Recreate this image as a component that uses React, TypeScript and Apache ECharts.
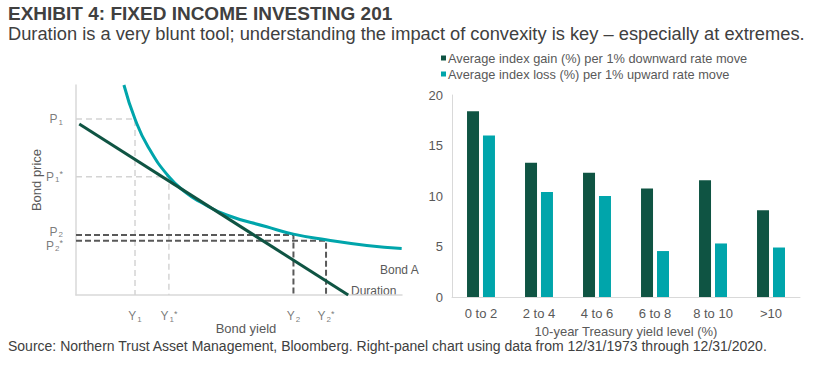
import React, { useEffect, useRef } from "react";
import * as echarts from "echarts";

const FONT = "'Liberation Sans', Arial, sans-serif";

const titleText = "EXHIBIT 4: FIXED INCOME INVESTING 201";
const subtitleText = "Duration is a very blunt tool; understanding the impact of convexity is key \u2013 especially at extremes.";
const sourceText = "Source: Northern Trust Asset Management, Bloomberg. Right-panel chart using data from 12/31/1973 through 12/31/2020.";

// Right panel
const categories = ["0 to 2", "2 to 4", "4 to 6", "6 to 8", "8 to 10", ">10"];
const gainValues = [18.4, 13.3, 12.3, 10.75, 11.55, 8.6];
const lossValues = [16.0, 10.4, 10.0, 4.55, 5.3, 4.9];
const gainName = "Average index gain (%) per 1% downward rate move";
const lossName = "Average index loss (%) per 1% upward rate move";
const yTicks = { min: 0, max: 20, interval: 5 };

// Left panel (schematic, 0-100 units)
const bondA: [number, number][] = [
  [14.7, 100], [18.1, 83.8], [22.1, 70.6], [28.5, 56.3], [34.0, 48.4], [38.0, 44.4],
  [46.2, 38.1], [58.5, 32.5], [66.7, 29.0], [76.7, 26.3], [89.2, 23.6], [99.9, 22.2],
];
const duration: [number, number][] = [[1.0, 81.4], [83.5, 0]];
// guides: [yield x, price y]
const guideNames = ["1", "1*", "2", "2*"];
const guideYield = [18.1, 28.5, 66.7, 76.7];
const guidePrice = [83.8, 56.3, 28.6, 25.8];

const DARK = "#0f5443";
const TEAL = "#00a5ab";
const GRAY = "#595959";

function richLabel(letter: string, sub: string) {
  const num = sub.replace("*", "");
  const star = sub.includes("*") ? "{t|*}" : "";
  return `{m|${letter}}{s|${num}}${star}`;
}

const rich = {
  m: { fontSize: 12, color: GRAY, fontFamily: FONT, lineHeight: 14 },
  s: { fontSize: 8, color: GRAY, fontFamily: FONT, lineHeight: 9, verticalAlign: "bottom", padding: [0, 0, 0, 1] },
  t: { fontSize: 9, color: GRAY, fontFamily: FONT, lineHeight: 9, verticalAlign: "top" },
};

export default function App() {
  const ref = useRef<HTMLDivElement>(null);
  useEffect(() => {
    if (!ref.current) return;
    const chart = echarts.init(ref.current, undefined, { renderer: "svg" });

    const guideSeries = guideNames.map((n, i) => ({
      type: "line",
      xAxisIndex: 0,
      yAxisIndex: 0,
      symbol: "none",
      silent: true,
      z: 1,
      data: [[0, guidePrice[i]], [guideYield[i], guidePrice[i]], [guideYield[i], 0]],
      lineStyle: i < 2
        ? { color: "#d4d4d4", width: 1.5, type: [6, 4] }
        : { color: GRAY, width: 2, type: [6, 3] },
    }));

    const pOffsets = [[0, 0], [0, 0], [0, -3], [0, 5]];

    const option: any = {
      animation: false,
      textStyle: { fontFamily: FONT },
      graphic: [
        { type: "text", style: { x: 8, y: 13.5, text: titleText, fontSize: 19, fontWeight: "bold", fontFamily: FONT, fill: "#404040", verticalAlign: "middle" } },
        { type: "text", style: { x: 8, y: 33, text: subtitleText, fontSize: 18.3, fontFamily: FONT, fill: "#404040", verticalAlign: "middle" } },
        { type: "text", style: { x: 8, y: 346, text: sourceText, fontSize: 14, fontFamily: FONT, fill: "#404040", verticalAlign: "middle" } },
        { type: "text", style: { x: 380, y: 270, text: "Bond A", fontSize: 12, fontFamily: FONT, fill: GRAY, verticalAlign: "middle" } },
        { type: "text", style: { x: 351, y: 291, text: "Duration", fontSize: 12, fontFamily: FONT, fill: GRAY, verticalAlign: "middle" } },
      ],
      legend: {
        orient: "vertical",
        left: 441,
        top: 51,
        padding: 0,
        itemWidth: 5,
        itemHeight: 5,
        itemGap: 2,
        icon: "rect",
        selectedMode: false,
        textStyle: { fontSize: 12.8, color: GRAY, fontFamily: FONT, lineHeight: 14, padding: [0, 0, 0, -3] },
        data: [gainName, lossName],
      },
      grid: [
        { left: 76, top: 85, width: 326, height: 210 },
        { left: 452, right: 35, top: 95, bottom: 68 },
      ],
      xAxis: [
        {
          type: "value", gridIndex: 0, min: 0, max: 100,
          axisLine: { show: true, lineStyle: { color: "#d9d9d9", width: 1.5 } },
          axisTick: { show: false }, axisLabel: { show: false }, splitLine: { show: false },
          name: "Bond yield", nameLocation: "middle", nameGap: 27,
          nameTextStyle: { fontSize: 13, color: GRAY, fontFamily: FONT, padding: [0, 0, 0, 14] },
        },
        {
          type: "category", gridIndex: 1, data: categories,
          axisLine: { show: true, lineStyle: { color: "#d9d9d9", width: 1 } },
          axisTick: { show: false },
          axisLabel: { fontSize: 13, color: GRAY, fontFamily: FONT, margin: 10 },
          name: "10-year Treasury yield level (%)", nameLocation: "middle", nameGap: 21,
          nameTextStyle: { fontSize: 13, color: GRAY, fontFamily: FONT },
        },
      ],
      yAxis: [
        {
          type: "value", gridIndex: 0, min: 0, max: 100,
          axisLine: { show: true, lineStyle: { color: "#d9d9d9", width: 1.5 } },
          axisTick: { show: false }, axisLabel: { show: false }, splitLine: { show: false },
          name: "Bond price", nameLocation: "middle", nameGap: 33,
          nameTextStyle: { fontSize: 13, color: GRAY, fontFamily: FONT, padding: [0, 0, 0, 20] },
        },
        {
          type: "value", gridIndex: 1, min: yTicks.min, max: yTicks.max, interval: yTicks.interval,
          axisLine: { show: true, lineStyle: { color: "#d9d9d9", width: 1 } },
          axisTick: { show: false }, splitLine: { show: false },
          axisLabel: { fontSize: 13, color: GRAY, fontFamily: FONT, margin: 9 },
        },
      ],
      series: [
        ...guideSeries,
        {
          type: "line", xAxisIndex: 0, yAxisIndex: 0, data: bondA, smooth: 0.5, symbol: "none", z: 3,
          lineStyle: { color: TEAL, width: 3 },
        },
        {
          type: "line", xAxisIndex: 0, yAxisIndex: 0, data: duration, symbol: "none", z: 4,
          lineStyle: { color: DARK, width: 3 },
        },
        {
          type: "scatter", xAxisIndex: 0, yAxisIndex: 0, symbolSize: 0, silent: true,
          data: guideNames.map((n, i) => ({
            value: [0, guidePrice[i]],
            label: { show: true, position: "left", distance: 13, offset: pOffsets[i], formatter: richLabel("P", n), rich },
          })),
        },
        {
          type: "scatter", xAxisIndex: 0, yAxisIndex: 0, symbolSize: 0, silent: true,
          data: guideNames.map((n, i) => ({
            value: [guideYield[i], 0],
            label: { show: true, position: "bottom", distance: 14, formatter: richLabel("Y", n), rich },
          })),
        },
        {
          name: gainName, type: "bar", xAxisIndex: 1, yAxisIndex: 1, data: gainValues,
          barWidth: 12, barGap: "33%", itemStyle: { color: DARK },
        },
        {
          name: lossName, type: "bar", xAxisIndex: 1, yAxisIndex: 1, data: lossValues,
          barWidth: 12, barGap: "33%", itemStyle: { color: TEAL },
        },
      ],
    };
    chart.setOption(option);
    return () => chart.dispose();
  }, []);
  return (
    <div
      ref={ref}
      style={{ position: "fixed", left: 0, top: 0, width: 835, height: 365, background: "#fff" }}
    />
  );
}
